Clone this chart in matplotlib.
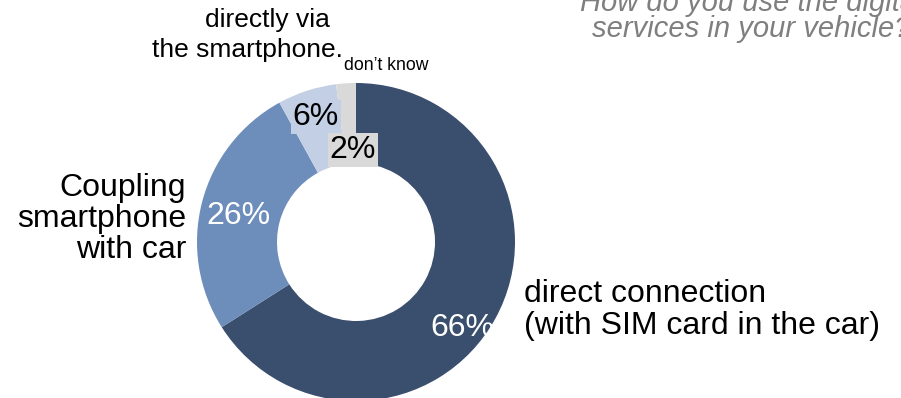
import matplotlib.pyplot as plt

plt.rcParams['font.family'] = ['Liberation Sans', 'DejaVu Sans']

# survey shares, clockwise from the top
shares = [66, 26, 6, 2]
pct_labels = ['66%', '26%', '6%', '2%']
categories = ['direct connection\n(with SIM card in the car)',
              'Coupling\nsmartphone\nwith car',
              'directly via\nthe smartphone.',
              'don\u2019t know']
colors = ['#3a4e6e', '#6d8dbb', '#c3cfe4', '#d9d9d9']
question = 'How do you use the digital\nservices in your vehicle?'

W, H = 901, 398
fig = plt.figure(figsize=(W / 100, H / 100), dpi=100)
ax = fig.add_axes([0, 0, 1, 1])
ax.set_xlim(0, W)
ax.set_ylim(0, H)
ax.set_aspect('equal')
ax.axis('off')

cx, cy, r = 356, H - 242, 159
wedges, _ = ax.pie(shares, colors=colors, startangle=90, counterclock=False,
                   center=(cx, cy), radius=r, wedgeprops=dict(width=80, linewidth=0))
ax.set_xlim(0, W)
ax.set_ylim(0, H)

big = 23
# percentages inside the ring
ax.text(462, H - 328, pct_labels[0], color='white', fontsize=big, ha='center', va='center')
ax.text(238, H - 216, pct_labels[1], color='white', fontsize=big, ha='center', va='center')
ax.text(316, H - 117, pct_labels[2], color='black', fontsize=big, ha='center', va='center',
        bbox=dict(boxstyle='square,pad=0.05', fc=colors[2], ec='none'))
ax.text(353, H - 150, pct_labels[3], color='black', fontsize=big, ha='center', va='center',
        bbox=dict(boxstyle='square,pad=0.05', fc=colors[3], ec='none'))

# category labels around the ring
ax.text(524, H - 310, categories[0], fontsize=big, ha='left', va='center', linespacing=1.08)
ax.text(186, H - 219, categories[1], fontsize=big, ha='right', va='center', linespacing=1.06)
top1, top2 = categories[2].split('\n')
ax.text(267, H - 20, top1, fontsize=19, ha='center', va='center')
ax.text(247, H - 50, top2, fontsize=19, ha='center', va='center')
ax.text(386, H - 66, categories[3], fontsize=12.7, ha='center', va='center')

ax.text(751, H - 16, question, fontsize=21, style='italic', color='#7f7f7f',
        ha='center', va='center', linespacing=0.95)

fig.savefig('out.png', dpi=100)
